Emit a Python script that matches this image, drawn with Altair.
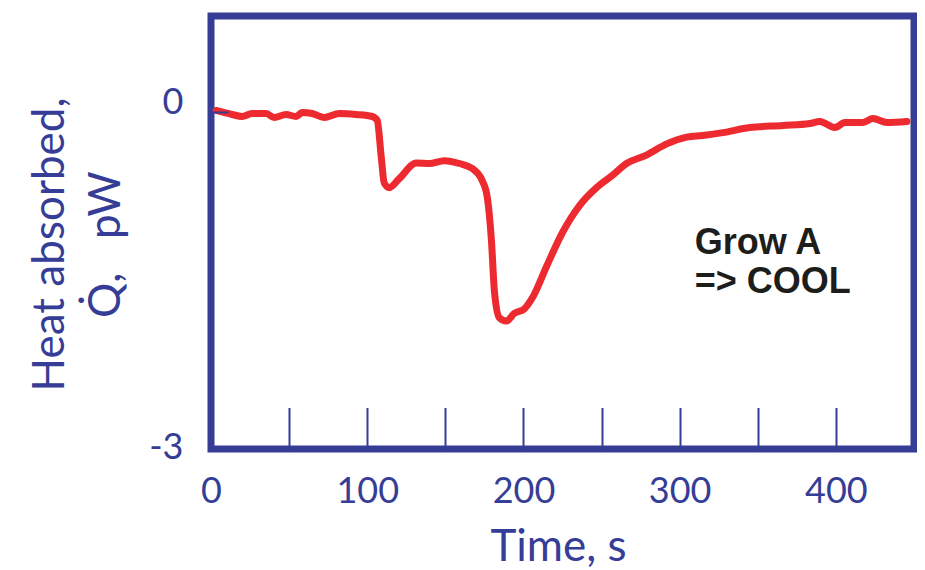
import altair as alt
import pandas as pd

# ---- data ----
time_s = [3.2, 13.5, 19.9, 26.3, 35.3, 40.4, 48.1, 54.5, 58.3, 64.7, 72.4, 82.1, 92.9,
          103.2, 106.4, 109.0, 110.9, 114.1, 120.5, 131.4, 139.7, 149.4, 159.0, 167.3,
          173.7, 176.9, 179.5, 181.4, 184.6, 189.1, 194.2, 200.6, 205.8, 214.7, 225.0,
          235.9, 246.8, 257.0, 266.0, 278.8, 291.7, 304.5, 314.7, 327.6, 344.9, 366.0,
          383.3, 389.7, 399.4, 405.8, 417.3, 423.7, 432.7, 445.5]
heat_pw = [0.018, -0.018, -0.036, -0.009, -0.009, -0.045, -0.018, -0.036, 0.0, -0.009,
           -0.045, -0.009, -0.018, -0.036, -0.071, -0.40, -0.63, -0.67, -0.59, -0.45,
           -0.455, -0.43, -0.455, -0.50, -0.61, -0.76, -1.14, -1.59, -1.83, -1.86, -1.79,
           -1.75, -1.65, -1.375, -1.07, -0.83, -0.67, -0.56, -0.455, -0.38, -0.28, -0.22,
           -0.205, -0.18, -0.134, -0.116, -0.098, -0.08, -0.134, -0.089, -0.089, -0.054,
           -0.089, -0.08]
x_label_values = [0, 100, 200, 300, 400]
x_tick_values = [50, 100, 150, 200, 250, 300, 350, 400]
y_label_values = [0, -3]
y_tick_values = [0]
note_lines = ["Grow A", "=> COOL"]
x_title = "Time, s"
y_title = ["Heat absorbed,", "Q\u0307,\u00a0\u00a0\u00a0pW"]

BLUE = "#363d96"
RED = "#ec2a2f"
W, H = 703, 433

df = pd.DataFrame({"t": time_s, "q": heat_pw})
note_df = pd.DataFrame({"note_x": [309.6], "note_y": [-1.26]})

xscale = alt.Scale(domain=[0, 450], nice=False, zero=False)
yscale = alt.Scale(domain=[-3, 0.86], nice=False, zero=False)

FONT = "Lato"

line = alt.Chart(df).mark_line(
    color=RED, strokeWidth=7, interpolate="monotone", strokeCap="round", strokeJoin="round"
).encode(
    x=alt.X("t:Q", scale=xscale, axis=alt.Axis(
        values=x_label_values, ticks=False, tickSize=0, domain=False, grid=False,
        labelPadding=53, labelBaseline="alphabetic", labelFont=FONT,
        labelFontSize=36, labelColor=BLUE, labelFlush=False, labelOverlap=False,
        title=x_title, titleFont=FONT, titleFontSize=44, titleFontWeight="normal",
        titleColor=BLUE, titleX=347, titleY=111, titleBaseline="alphabetic",
        titleAlign="center")),
    y=alt.Y("q:Q", scale=yscale, axis=alt.Axis(
        values=y_label_values, ticks=False, tickSize=0, domain=False, grid=False,
        labelPadding=28, labelBaseline="alphabetic", labelFont=FONT,
        labelFontSize=36, labelColor=BLUE, labelFlush=False, labelOverlap=False,
        labelExpr="datum.value < 0 ? '-' + abs(datum.value) : datum.label",
        labelOffset={"condition": {"test": "datum.value == 0", "value": 1}, "value": 9.5},
        title=y_title, titleFont=FONT, titleFontSize=44, titleFontWeight="normal",
        titleColor=BLUE, titleX=-148, titleY=228, titleAngle=270,
        titleBaseline="alphabetic", titleAlign="center", titleLineHeight=56)),
)

ticks = alt.Chart(df).mark_line(opacity=0).encode(
    x=alt.X("t:Q", scale=xscale, axis=alt.Axis(
        orient="top", offset=-H, values=x_tick_values, labels=False, domain=False,
        grid=False, ticks=True, tickSize=41.5, tickWidth=2, tickColor=BLUE, title="",
        zindex=1)),
    y=alt.Y("q:Q", scale=yscale, axis=alt.Axis(
        orient="right", offset=-W, values=y_tick_values, labels=False, domain=False,
        grid=False, ticks=True, tickSize=17, tickWidth=2, tickColor=BLUE, title="",
        zindex=1)),
)

note = alt.Chart(note_df).mark_text(
    text=note_lines, font="Liberation Sans", fontWeight="bold", fontSize=36,
    align="left", baseline="alphabetic", lineHeight=39, color="#1d1d1b"
).encode(
    x=alt.X("note_x:Q", scale=xscale, axis=None),
    y=alt.Y("note_y:Q", scale=yscale, axis=None),
)

chart = alt.layer(line, ticks, note).resolve_axis(
    x="independent", y="independent"
).properties(
    width=W, height=H,
    padding={"left": 203, "top": 8, "right": 3, "bottom": 120},
    autosize=alt.AutoSizeParams(type="none"),
    background="white",
).configure_view(stroke=BLUE, strokeWidth=7)

chart.save("out.html", embed_options={"renderer": "svg", "actions": False})
